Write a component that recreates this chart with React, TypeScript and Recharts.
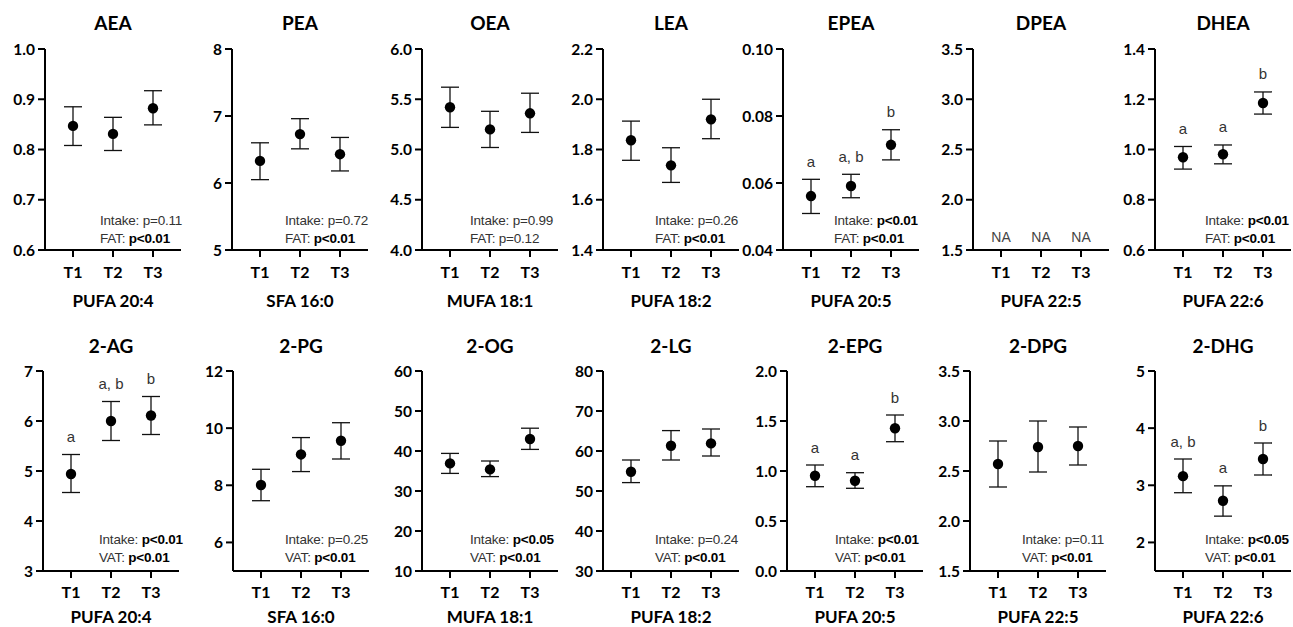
import { ScatterChart, Scatter, XAxis, YAxis, ErrorBar } from "recharts";

const TIMEPOINTS = ["T1", "T2", "T3"];
const TITLES = ["AEA", "PEA", "OEA", "LEA", "EPEA", "DPEA", "DHEA", "2-AG", "2-PG", "2-OG", "2-LG", "2-EPG", "2-DPG", "2-DHG"];
const FATTY_ACIDS = [
  "PUFA 20:4", "SFA 16:0", "MUFA 18:1", "PUFA 18:2", "PUFA 20:5", "PUFA 22:5", "PUFA 22:6",
  "PUFA 20:4", "SFA 16:0", "MUFA 18:1", "PUFA 18:2", "PUFA 20:5", "PUFA 22:5", "PUFA 22:6",
];
const DEPOTS = ["FAT", "VAT"];

// means and error bar ends (empty = not available)
const MEANS = [
  [0.847, 0.831, 0.882],
  [6.33, 6.73, 6.43],
  [5.42, 5.2, 5.36],
  [1.837, 1.737, 1.92],
  [0.0561, 0.0591, 0.0714],
  [],
  [0.969, 0.981, 1.185],
  [4.94, 6.0, 6.11],
  [8.01, 9.08, 9.56],
  [36.9, 35.4, 43.0],
  [54.8, 61.3, 61.9],
  [0.953, 0.903, 1.427],
  [2.57, 2.74, 2.75],
  [3.16, 2.73, 3.46],
];
const LOWER = [
  [0.808, 0.798, 0.849],
  [6.05, 6.51, 6.18],
  [5.22, 5.02, 5.17],
  [1.757, 1.669, 1.843],
  [0.0509, 0.0556, 0.0669],
  [],
  [0.922, 0.943, 1.141],
  [4.57, 5.61, 5.73],
  [7.46, 8.48, 8.92],
  [34.4, 33.6, 40.4],
  [52.1, 57.75, 58.75],
  [0.843, 0.827, 1.293],
  [2.34, 2.49, 2.56],
  [2.87, 2.46, 3.18],
];
const UPPER = [
  [0.885, 0.864, 0.917],
  [6.6, 6.96, 6.68],
  [5.62, 5.38, 5.56],
  [1.913, 1.807, 2.0],
  [0.0611, 0.0626, 0.0759],
  [],
  [1.012, 1.018, 1.229],
  [5.33, 6.39, 6.49],
  [8.56, 9.67, 10.19],
  [39.4, 37.5, 45.7],
  [57.75, 65.1, 65.5],
  [1.06, 0.983, 1.56],
  [2.8, 3.0, 2.94],
  [3.46, 2.99, 3.74],
];
const LETTERS = [
  [], [], [], [], ["a", "a, b", "b"], [], ["a", "a", "b"],
  ["a", "a, b", "b"], [], [], [], ["a", "a", "b"], [], ["a, b", "a", "b"],
];
const Y_DOMAINS = [
  [0.6, 1.0], [5, 8], [4, 6], [1.4, 2.2], [0.04, 0.1], [1.5, 3.5], [0.6, 1.4],
  [3, 7], [5, 12], [10, 60], [30, 80], [0, 2], [1.5, 3.5], [1.5, 5],
];
const Y_TICKS = [
  [0.6, 0.7, 0.8, 0.9, 1.0],
  [5, 6, 7, 8],
  [4, 4.5, 5, 5.5, 6],
  [1.4, 1.6, 1.8, 2.0, 2.2],
  [0.04, 0.06, 0.08, 0.1],
  [1.5, 2, 2.5, 3, 3.5],
  [0.6, 0.8, 1.0, 1.2, 1.4],
  [3, 4, 5, 6, 7],
  [6, 8, 10, 12],
  [10, 20, 30, 40, 50, 60],
  [30, 40, 50, 60, 70, 80],
  [0, 0.5, 1, 1.5, 2],
  [1.5, 2, 2.5, 3, 3.5],
  [2, 3, 4, 5],
];
const TICK_DECIMALS = [1, 0, 1, 1, 2, 1, 1, 0, 0, 0, 0, 1, 1, 0];
const STAT_INTAKE = ["p=0.11", "p=0.72", "p=0.99", "p=0.26", "p<0.01", "", "p<0.01", "p<0.01", "p=0.25", "p<0.05", "p=0.24", "p<0.01", "p=0.11", "p<0.05"];
const STAT_DEPOT = ["p<0.01", "p<0.01", "p=0.12", "p<0.01", "p<0.01", "", "p<0.01", "p<0.01", "p<0.01", "p<0.01", "p<0.01", "p<0.01", "p<0.01", "p<0.01"];

// layout
const AXIS_X = [45, 232, 422, 603, 783, 973, 1155, 43, 233, 422, 603, 787, 970, 1155];
const STAT_LEFT = [55, 53, 48, 52, 51, 0, 50, 56, 52, 48, 52, 48, 52, 50];
const ROW_TOP = [0, 310];
const PLOT_TOP = [49, 371];
const PLOT_BOTTOM = [250, 571];
const TITLE_Y = [23, 346];
const XLABEL_Y = [301, 617];
const PLOT_W = 136;
const YAXIS_W = 50;

const boldFont = "Lato, 'Open Sans', sans-serif";
const arial = "'Liberation Sans', Arial, sans-serif";

const StatValue = ({ v }) =>
  v.includes("<") ? <b style={{ color: "#000" }}>{v}</b> : <span>{v}</span>;

function Panel({ i }) {
  const row = i < 7 ? 0 : 1;
  const top = ROW_TOP[row];
  const height = PLOT_BOTTOM[row] - top + 40;
  const axisX = AXIS_X[i];
  const points = MEANS[i].map((m, k) => ({
    x: k + 1,
    y: m,
    err: [m - LOWER[i][k], UPPER[i][k] - m],
  }));
  const letterPts = LETTERS[i].map((l, k) => ({ x: k + 1, y: UPPER[i][k], letter: l }));
  const naPts = MEANS[i].length === 0 ? TIMEPOINTS.map((t, k) => ({ x: k + 1, y: Y_DOMAINS[i][0] })) : [];
  const tickMargin = row === 0 ? 10 : 9;

  return (
    <>
      <div
        style={{
          position: "absolute", left: axisX, width: PLOT_W, top: TITLE_Y[row] - 12, height: 24,
          lineHeight: "24px", textAlign: "center", fontFamily: boldFont, fontWeight: 700, fontSize: 19,
        }}
      >
        {TITLES[i]}
      </div>
      <div style={{ position: "absolute", left: axisX - YAXIS_W, top }}>
        <ScatterChart
          width={YAXIS_W + PLOT_W + 8}
          height={height}
          margin={{ top: PLOT_TOP[row] - top, right: 8, bottom: 0, left: 0 }}
        >
          <XAxis
            type="number"
            dataKey="x"
            domain={[0.3, 3.7]}
            ticks={[1, 2, 3]}
            interval={0}
            allowDataOverflow
            tickFormatter={(v) => TIMEPOINTS[v - 1]}
            height={40}
            tickSize={7}
            tickMargin={tickMargin}
            axisLine={{ stroke: "#000", strokeWidth: 2 }}
            tickLine={{ stroke: "#000", strokeWidth: 2 }}
            tick={{ fill: "#000", fontSize: 16, fontWeight: 700, fontFamily: boldFont }}
          />
          <YAxis
            type="number"
            dataKey="y"
            domain={Y_DOMAINS[i]}
            ticks={Y_TICKS[i]}
            interval={0}
            allowDataOverflow
            width={YAXIS_W}
            tickSize={7}
            tickMargin={3}
            tickFormatter={(v) => Number(v).toFixed(TICK_DECIMALS[i])}
            axisLine={{ stroke: "#000", strokeWidth: 2 }}
            tickLine={{ stroke: "#000", strokeWidth: 2 }}
            tick={{ fill: "#000", fontSize: 15.5, fontWeight: 700, fontFamily: boldFont }}
          />
          <Scatter
            data={points}
            isAnimationActive={false}
            shape={(p) => <circle cx={p.cx} cy={p.cy} r={5.2} fill="#000" />}
          >
            <ErrorBar dataKey="err" direction="y" width={9} stroke="#111" strokeWidth={1.3} />
          </Scatter>
          <Scatter
            data={letterPts}
            isAnimationActive={false}
            shape={(p) => (
              <text
                x={p.cx}
                y={p.cy - 18}
                textAnchor="middle"
                dominantBaseline="central"
                fontFamily={arial}
                fontSize={15}
                fill="#333"
              >
                {p.payload.letter}
              </text>
            )}
          />
          <Scatter
            data={naPts}
            isAnimationActive={false}
            shape={(p) => (
              <text
                x={p.cx}
                y={p.cy - 13}
                textAnchor="middle"
                dominantBaseline="central"
                fontFamily={arial}
                fontSize={14}
                fill="#444"
              >
                NA
              </text>
            )}
          />
        </ScatterChart>
      </div>
      {STAT_INTAKE[i] && (
        <div
          style={{
            position: "absolute", left: axisX + STAT_LEFT[i], top: PLOT_BOTTOM[row] - (row === 0 ? 38 : 40),
            fontFamily: arial, fontSize: 13.5, lineHeight: "18px", color: "#333", whiteSpace: "nowrap",
            letterSpacing: -0.2,
          }}
        >
          <div>
            Intake: <StatValue v={STAT_INTAKE[i]} />
          </div>
          <div>
            {DEPOTS[row]}: <StatValue v={STAT_DEPOT[i]} />
          </div>
        </div>
      )}
      <div
        style={{
          position: "absolute", left: axisX - 20, width: PLOT_W + 40, top: XLABEL_Y[row] - 12, height: 24,
          lineHeight: "24px", textAlign: "center", fontFamily: boldFont, fontWeight: 700, fontSize: 17,
        }}
      >
        {FATTY_ACIDS[i]}
      </div>
    </>
  );
}

export default function App() {
  return (
    <div
      style={{
        position: "absolute", left: 0, top: 0, width: 1293, height: 627,
        background: "#fff", overflow: "hidden",
      }}
    >
      {TITLES.map((t, i) => (
        <Panel key={t} i={i} />
      ))}
    </div>
  );
}
